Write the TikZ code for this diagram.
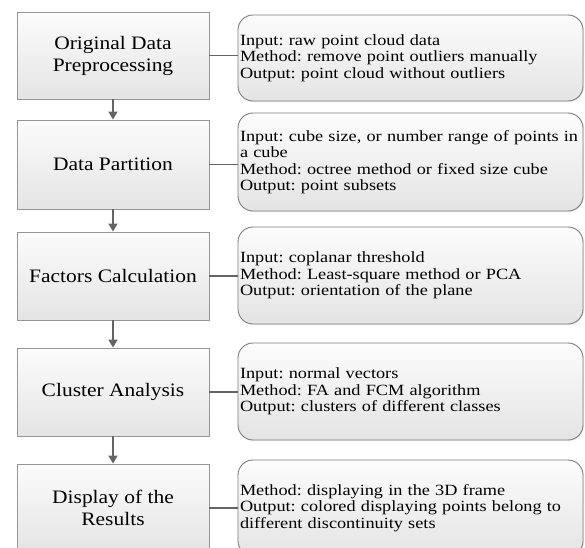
\documentclass[tikz,border=0pt]{standalone}
\usepackage{fontspec}
\setmainfont{Liberation Serif}
\newfontfamily\leftfont{Liberation Serif}[FakeStretch=1.13]
\newfontfamily\rightfont{Liberation Serif}[FakeStretch=1.17]
\frenchspacing
\usetikzlibrary{arrows.meta,shadows}
\definecolor{boxline}{RGB}{150,150,150}
\definecolor{rline}{RGB}{125,125,125}
\definecolor{arrowc}{RGB}{100,100,100}
\definecolor{topc}{RGB}{252,252,252}
\definecolor{botc}{RGB}{228,228,228}
\tikzset{
  stepbox/.style={draw=boxline, line width=0.9pt, top color=topc, bottom color=botc,
    minimum width=192pt, minimum height=88pt, align=center, inner sep=2pt,
    font=\leftfont\fontsize{19}{22}\selectfont,
    drop shadow={opacity=0.18, shadow xshift=1.2pt, shadow yshift=-1.2pt}},
  infobox/.style={draw=rline, line width=0.9pt, rounded corners=15pt, top color=topc, bottom color=botc,
    minimum width=345pt, text width=341pt, align=left, inner xsep=2pt,
    font=\rightfont\fontsize{15.6}{16.4}\selectfont,
    drop shadow={opacity=0.15, shadow xshift=1pt, shadow yshift=-1pt}},
  link/.style={draw=arrowc, line width=1.2pt},
  flow/.style={draw=arrowc, line width=1.5pt, -{Triangle[width=9pt,length=8pt]}}
}
\begin{document}
\begin{tikzpicture}[x=1pt,y=-1pt]
\useasboundingbox (0,0) rectangle (585,547);
\clip (0,0) rectangle (585,547);
\fill[white] (0,0) rectangle (585,547);
% left boxes
\node[stepbox, minimum height=87pt] (s1) at (113,55.5) {Original Data\\Preprocessing};
\node[stepbox, minimum height=89pt] (s2) at (113,164.5) {Data Partition};
\node[stepbox, minimum height=88pt] (s3) at (113,276) {Factors Calculation};
\node[stepbox, minimum height=88pt] (s4) at (113,392) {Cluster Analysis};
\node[stepbox, minimum height=88pt] (s5) at (113,508) {Display of the\\Results};
% right boxes
\node[infobox, minimum height=86pt] (r1) at (410.5,58) {\mbox{Input: raw point cloud data}\\\mbox{Method: remove point outliers manually}\\\mbox{Output: point cloud without outliers}};
\node[infobox, minimum height=98pt] (r2) at (410.5,162) {\mbox{Input: cube size, or number range of points in}\\\mbox{a cube}\\\mbox{Method: octree method or fixed size cube}\\\mbox{Output: point subsets}};
\node[infobox, minimum height=97pt] (r3) at (410.5,275.5) {\mbox{Input: coplanar threshold}\\\mbox{Method: Least-square method or PCA}\\\mbox{Output: orientation of the plane}};
\node[infobox, minimum height=97pt] (r4) at (410.5,391.5) {\mbox{Input: normal vectors}\\\mbox{Method: FA and FCM algorithm}\\\mbox{Output: clusters of different classes}};
\node[infobox, minimum height=96pt] (r5) at (410.5,508) {\mbox{Method: displaying in the 3D frame}\\\mbox{Output: colored displaying points belong to}\\\mbox{different discontinuity sets}};
% links
\foreach \i in {1,...,5} {\draw[link] (s\i.east) -- (s\i.east -| r\i.west);}
% flow arrows
\foreach \a/\b in {s1/s2,s2/s3,s3/s4,s4/s5} {\draw[flow] (\a.south) -- (\b.north);}
\end{tikzpicture}
\end{document}
